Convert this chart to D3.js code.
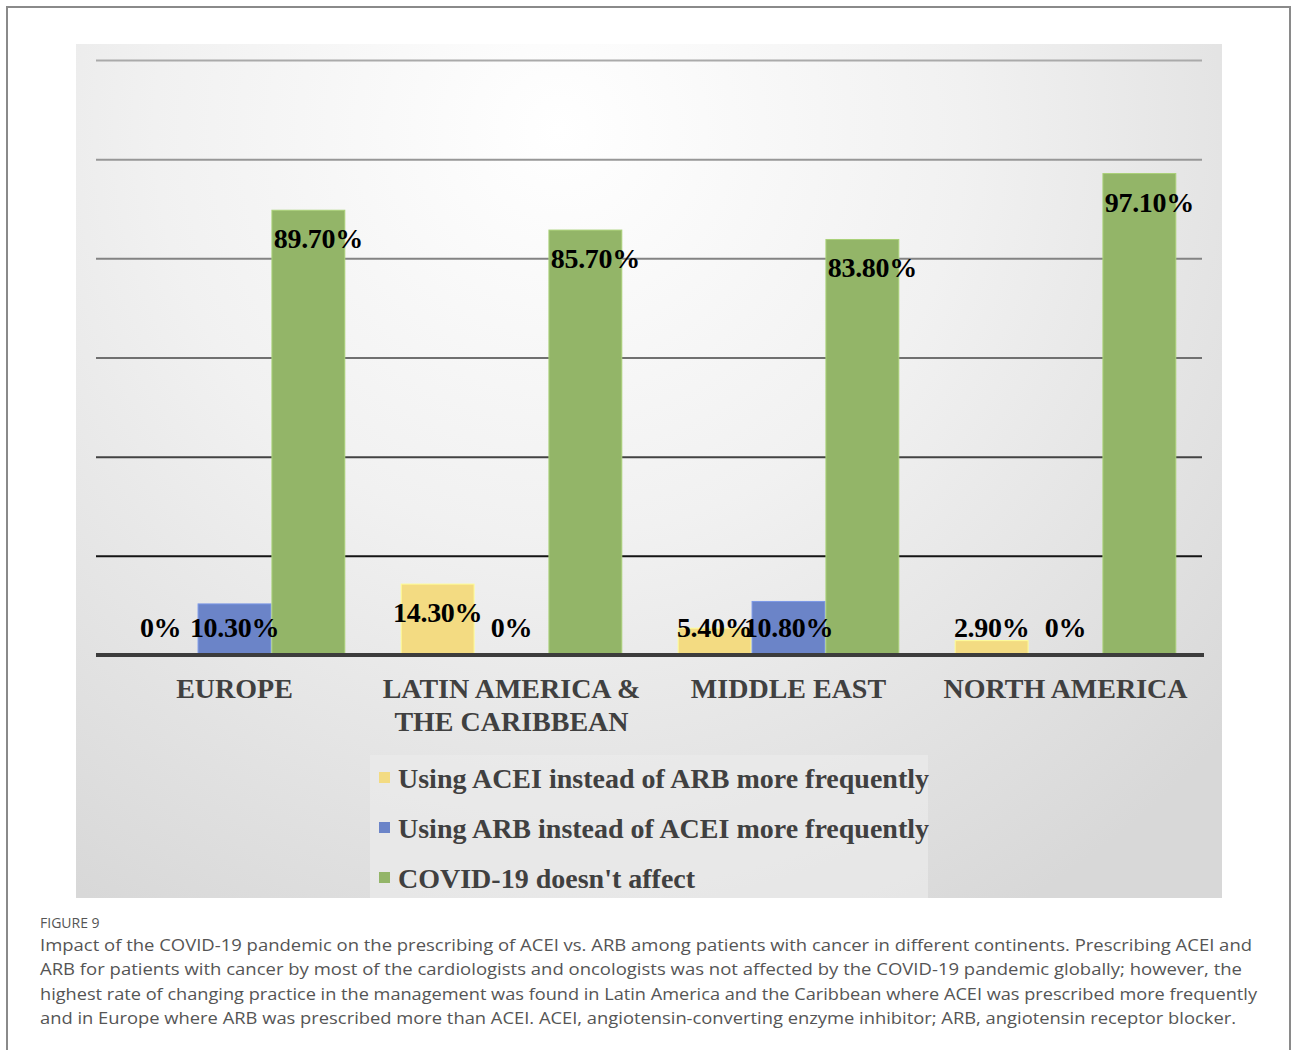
<!DOCTYPE html>
<html><head><meta charset="utf-8">
<script src="https://cdn.jsdelivr.net/npm/d3@7"></script>
<style>
html,body{margin:0;padding:0;background:#fff;}
svg{display:block;}
</style></head>
<body>
<script>
const categories = [["EUROPE"], ["LATIN AMERICA &", "THE CARIBBEAN"], ["MIDDLE EAST"], ["NORTH AMERICA"]];
const seriesNames = ["Using ACEI instead of ARB more frequently", "Using ARB instead of ACEI more frequently", "COVID-19 doesn't affect"];
const acei = [0, 14.3, 5.4, 2.9];
const arb = [10.3, 0, 10.8, 0];
const noEffect = [89.7, 85.7, 83.8, 97.1];
const valueLabels = [["0%", "14.30%", "5.40%", "2.90%"], ["10.30%", "0%", "10.80%", "0%"], ["89.70%", "85.70%", "83.80%", "97.10%"]];
const yTicks = [0, 20, 40, 60, 80, 100, 120];
const captionTitle = "FIGURE 9";
const captionLines = [
  "Impact of the COVID-19 pandemic on the prescribing of ACEI vs. ARB among patients with cancer in different continents. Prescribing ACEI and",
  "ARB for patients with cancer by most of the cardiologists and oncologists was not affected by the COVID-19 pandemic globally; however, the",
  "highest rate of changing practice in the management was found in Latin America and the Caribbean where ACEI was prescribed more frequently",
  "and in Europe where ARB was prescribed more than ACEI. ACEI, angiotensin-converting enzyme inhibitor; ARB, angiotensin receptor blocker."
];

const series = [acei, arb, noEffect];
const colors = ["#f3db82", "#6b84c8", "#93b568"];
const W = 1292, H = 1050;
const svg = d3.select("body").append("svg").attr("width", W).attr("height", H);

const defs = svg.append("defs");
const grad = defs.append("radialGradient").attr("id", "bg")
  .attr("gradientUnits", "userSpaceOnUse").attr("cx", 560).attr("cy", 130).attr("r", 900);
grad.append("stop").attr("offset", "0").attr("stop-color", "#ffffff");
grad.append("stop").attr("offset", "0.45").attr("stop-color", "#f1f1f1");
grad.append("stop").attr("offset", "1").attr("stop-color", "#d8d8d8");

// outer frame
svg.append("rect").attr("x", 7).attr("y", 7).attr("width", 1283).attr("height", 1050)
  .attr("fill", "none").attr("stroke", "#8a8a8a").attr("stroke-width", 2);

// chart area background
svg.append("rect").attr("x", 76).attr("y", 44).attr("width", 1146).attr("height", 854).attr("fill", "url(#bg)");

const x0 = d3.scaleBand().domain(d3.range(categories.length)).range([96, 1204]).paddingInner(0.2).paddingOuter(0.1);
const x1 = d3.scaleBand().domain(d3.range(series.length)).range([0, x0.bandwidth()]).padding(0);
const y = d3.scaleLinear().domain([0, 120]).range([655, 60]);

const gridColor = d3.scaleLinear().domain([20, 60, 120]).range(["#151515", "#707070", "#aaaaaa"]);
const yAxis = d3.axisLeft(y).tickValues(yTicks.filter(t => t > 0)).tickSize(-(1202 - 96)).tickFormat("");
const gAxis = svg.append("g").attr("transform", "translate(96,0)").call(yAxis);
gAxis.select(".domain").remove();
gAxis.selectAll(".tick line").attr("stroke", d => gridColor(d)).attr("stroke-width", 2);

// bars
series.forEach((vals, si) => {
  svg.append("g").selectAll("rect").data(vals).join("rect")
    .attr("x", (d, i) => x0(i) + x1(si) + 0.5)
    .attr("width", x1.bandwidth() - 1)
    .attr("y", d => y(d))
    .attr("height", d => y(0) - y(d))
    .attr("fill", colors[si])
    .attr("stroke", d3.color(colors[si]).brighter(0.4))
    .attr("stroke-width", 1);
});

// baseline
svg.append("line").attr("x1", 96).attr("x2", 1204).attr("y1", y(0)).attr("y2", y(0))
  .attr("stroke", "#3c3c3c").attr("stroke-width", 4);

// value labels
series.forEach((vals, si) => {
  svg.append("g").selectAll("text").data(vals).join("text")
    .attr("x", (d, i) => x0(i) + x1(si) + x1.bandwidth() / 2 + (si === 2 ? 10 : 0))
    .attr("y", d => Math.min(y(d) + 28, 627) + 10)
    .attr("text-anchor", "middle")
    .attr("font-family", "'Liberation Serif', 'Times New Roman', serif")
    .attr("font-weight", "bold").attr("font-size", 28).attr("fill", "#000")
    .attr("letter-spacing", -0.3)
    .text((d, i) => valueLabels[si][i]);
});

// category labels
categories.forEach((lines, i) => {
  const t = svg.append("text")
    .attr("x", x0(i) + x0.bandwidth() / 2).attr("y", 698)
    .attr("text-anchor", "middle")
    .attr("font-family", "'Liberation Serif', 'Times New Roman', serif")
    .attr("font-weight", "bold").attr("font-size", 28).attr("fill", "#404040");
  lines.forEach((l, k) => t.append("tspan").attr("x", x0(i) + x0.bandwidth() / 2).attr("dy", k === 0 ? 0 : 33).text(l));
});

// legend
svg.append("rect").attr("x", 370).attr("y", 755).attr("width", 558).attr("height", 143).attr("fill", "#ebebeb").attr("opacity", 0.7);
const lg = svg.append("g").selectAll("g").data(seriesNames).join("g")
  .attr("transform", (d, i) => `translate(379, ${778 + i * 50})`);
lg.append("rect").attr("x", 0).attr("y", -6).attr("width", 11).attr("height", 11).attr("fill", (d, i) => colors[i]);
lg.append("text").attr("x", 19).attr("y", 10)
  .attr("font-family", "'Liberation Serif', 'Times New Roman', serif")
  .attr("font-weight", "bold").attr("font-size", 28).attr("fill", "#404040")
  .text(d => d);

// caption
svg.append("text").attr("x", 40).attr("y", 928).text(captionTitle)
  .attr("font-family", "'Open Sans', sans-serif").attr("font-size", 14).attr("fill", "#555");
svg.append("g").selectAll("text").data(captionLines).join("text")
  .attr("x", 40).attr("y", (d, i) => 951 + i * 24.3)
  .attr("font-family", "'Open Sans', sans-serif").attr("font-size", 17).attr("fill", "#555")
  .attr("textLength", (d, i) => [1212, 1202, 1217, 1196][i]).attr("lengthAdjust", "spacingAndGlyphs")
  .text(d => d);
</script>
</body></html>
